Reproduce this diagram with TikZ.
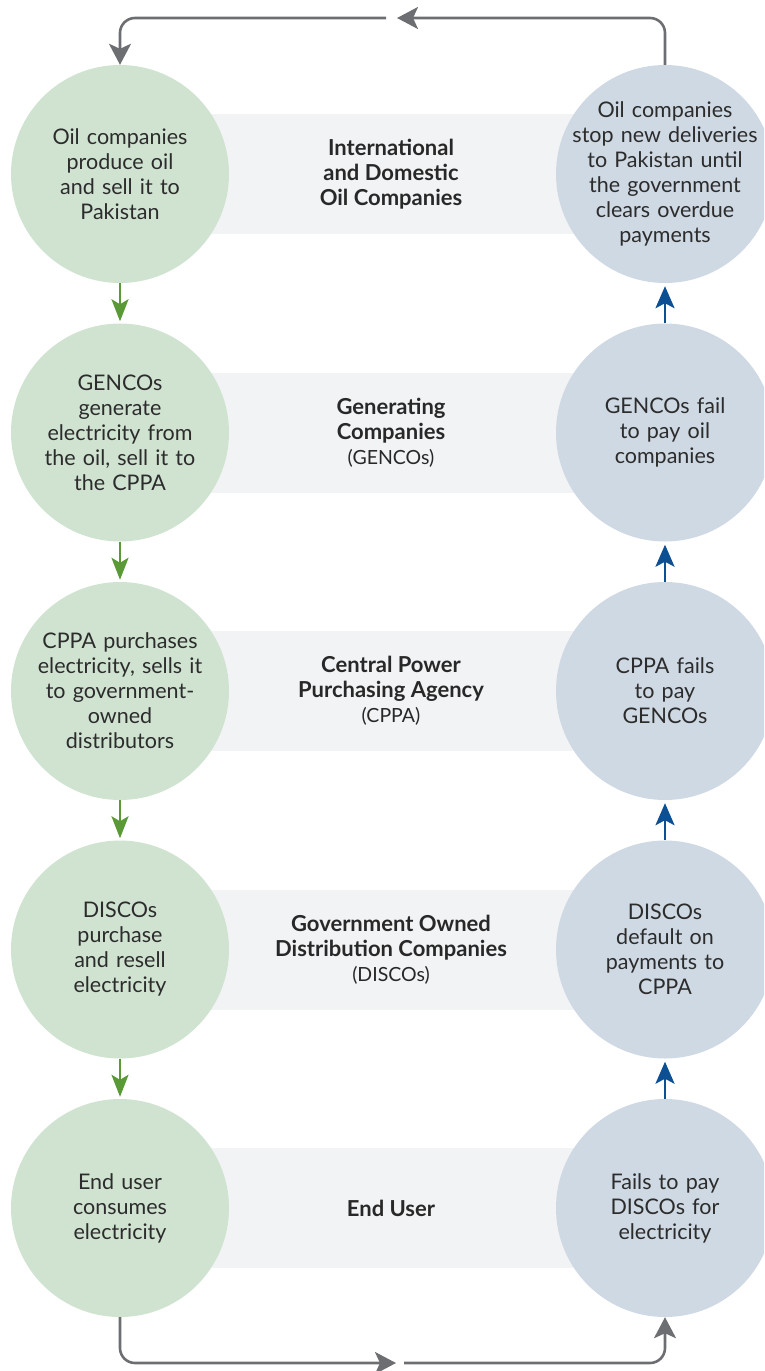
\documentclass[tikz,border=0pt]{standalone}
\usepackage{fontspec}
\setmainfont{Lato}
\usetikzlibrary{positioning,arrows.meta}
\definecolor{sage}{HTML}{D0E3D1}
\definecolor{mist}{HTML}{CFD9E3}
\definecolor{bandgray}{HTML}{F2F3F5}
\definecolor{leaf}{HTML}{5A9A36}
\definecolor{marine}{HTML}{0C4F93}
\definecolor{slate}{HTML}{6D6E72}
\definecolor{ink}{HTML}{2C2C2C}
\newcommand{\abbrev}[1]{{\fontsize{19.5}{24}\selectfont\mdseries #1}}

\begin{document}
\begin{tikzpicture}[x=1pt, y=-1pt,
    bandBox/.style={rectangle, fill=bandgray, minimum width=480pt, minimum height=120pt, align=center, font=\fontsize{22}{25}\selectfont\bfseries, text=ink!90!black},
    greenDot/.style={circle, fill=sage, minimum size=218pt, inner sep=0pt},
    blueDot/.style={circle, fill=mist, minimum size=218pt, inner sep=0pt},
    dotText/.style={align=center, text width=205pt, font=\fontsize{21.5}{25}\selectfont, text=ink},
    downArrow/.style={-{Stealth[length=22pt, width=17pt, inset=5pt]}, line width=2.6pt, draw=leaf, shorten >=2pt},
    upArrow/.style={-{Stealth[length=22pt, width=19pt, inset=5pt]}, line width=2.6pt, draw=marine, shorten >=3pt},
    loopArrow/.style={-{Stealth[length=21pt, width=22pt, inset=5pt]}, line width=2.6pt, draw=slate, rounded corners=15pt}
]
    \useasboundingbox (0,0) rectangle (764,1371);
    \clip (0,0) rectangle (764,1371);

    % Bands with the sector names
    \node[bandBox] (band1) at (391,174) {International\\and Domestic\\Oil Companies};
    \node[bandBox] (band2) at (391,432.5) {Generating\\Companies\\\abbrev{(GENCOs)}};
    \node[bandBox] (band3) at (391,691) {Central Power\\Purchasing Agency\\\abbrev{(CPPA)}};
    \node[bandBox] (band4) at (391,949.5) {Government Owned\\Distribution Companies\\\abbrev{(DISCOs)}};
    \node[bandBox] (band5) at (391,1208) {End User};

    % Left column: flow of oil and electricity
    \node[greenDot] (g1) at (120,174) {};
    \node[greenDot] (g2) at (120,432.5) {};
    \node[greenDot] (g3) at (120,691) {};
    \node[greenDot] (g4) at (120,949.5) {};
    \node[greenDot] (g5) at (120,1208) {};
    \node[dotText] (g1t) at (g1) {Oil companies\\produce oil\\and sell it to\\Pakistan};
    \node[dotText] (g2t) at (g2) {GENCOs\\generate\\electricity from\\the oil, sell it to\\the CPPA};
    \node[dotText] (g3t) at (g3) {CPPA purchases\\electricity, sells it\\to government-\\owned\\distributors};
    \node[dotText] (g4t) at (g4) {DISCOs\\purchase\\and resell\\electricity};
    \node[dotText] (g5t) at (g5) {End user\\consumes\\electricity};
    \draw[downArrow] (g1) -- (g2);
    \draw[downArrow] (g2) -- (g3);
    \draw[downArrow] (g3) -- (g4);
    \draw[downArrow] (g4) -- (g5);

    % Right column: unpaid bills
    \node[blueDot] (b1) at (665,174) {};
    \node[blueDot] (b2) at (665,432.5) {};
    \node[blueDot] (b3) at (665,691) {};
    \node[blueDot] (b4) at (665,949.5) {};
    \node[blueDot] (b5) at (665,1208) {};
    \node[dotText] (b1t) at (b1) {Oil companies\\stop new deliveries\\to Pakistan until\\the government\\clears overdue\\payments};
    \node[dotText] (b2t) at (b2) {GENCOs fail\\to pay oil\\companies};
    \node[dotText] (b3t) at (b3) {CPPA fails\\to pay\\GENCOs};
    \node[dotText] (b4t) at (b4) {DISCOs\\default on\\payments to\\CPPA};
    \node[dotText] (b5t) at (b5) {Fails to pay\\DISCOs for\\electricity};
    \draw[upArrow] (b5) -- (b4);
    \draw[upArrow] (b4) -- (b3);
    \draw[upArrow] (b3) -- (b2);
    \draw[upArrow] (b2) -- (b1);

    % Closing loop
    \coordinate (topTip) at (397,18);
    \coordinate (topEnd) at (386,18);
    \coordinate (botTip) at (396,1363);
    \coordinate (botStart) at (404,1363);
    \draw[loopArrow] (b1.north) |- (topTip);
    \draw[loopArrow] (topEnd) -| (g1.north);
    \draw[loopArrow] (g5.south) |- (botTip);
    \draw[loopArrow] (botStart) -| (b5.south);
\end{tikzpicture}
\end{document}
